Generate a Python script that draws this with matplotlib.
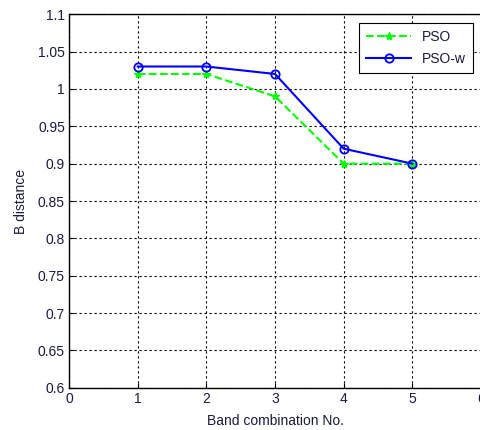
import matplotlib
matplotlib.use("Agg")
import matplotlib.pyplot as plt

plt.rcParams['font.family'] = ['Liberation Sans', 'DejaVu Sans']

combos = [1, 2, 3, 4, 5]
pso = [1.02, 1.02, 0.99, 0.90, 0.90]
pso_w = [1.03, 1.03, 1.02, 0.92, 0.90]

xticks = [0, 1, 2, 3, 4, 5, 6]
yticks = [0.6, 0.65, 0.7, 0.75, 0.8, 0.85, 0.9, 0.95, 1.0, 1.05, 1.1]
ytick_labels = ['0.6', '0.65', '0.7', '0.75', '0.8', '0.85', '0.9', '0.95', '1', '1.05', '1.1']

fig = plt.figure(figsize=(4.8, 4.3), dpi=100)
ax = fig.add_axes([0.144, 0.098, 0.858, 0.869])

ax.plot(combos, pso, color='#00ff00', linestyle='--', linewidth=1.5,
        marker='*', markersize=6, label='PSO')
ax.plot(combos, pso_w, color='#0000ff', linestyle='-', linewidth=1.5,
        marker='o', markersize=6, markerfacecolor='none', markeredgewidth=1.3,
        label='PSO-w')

ax.set_xlim(0, 6)
ax.set_ylim(0.6, 1.1)
ax.set_xticks(xticks)
ax.set_yticks(yticks)
ax.set_yticklabels(ytick_labels)
ax.tick_params(direction='in', labelsize=10, colors='black', labelcolor='#1a1a40', pad=3)
ax.grid(True, color='black', linestyle=(0, (2, 2.5)), linewidth=0.8)
for s in ax.spines.values():
    s.set_linewidth(1.0)

ax.set_xlabel('Band combination No.', fontsize=10, color='#1a1a40', labelpad=6)
ax.set_ylabel('B distance', fontsize=10, color='#1a1a40', labelpad=7)

leg = ax.legend(loc='upper right', bbox_to_anchor=(0.997, 0.995), fontsize=10,
                fancybox=False, edgecolor='black', framealpha=1,
                handlelength=3.2, borderpad=0.5, labelspacing=0.6)
leg.get_frame().set_linewidth(0.8)
for t in leg.get_texts():
    t.set_color('#1a1a40')

fig.savefig('out.png', dpi=100)
